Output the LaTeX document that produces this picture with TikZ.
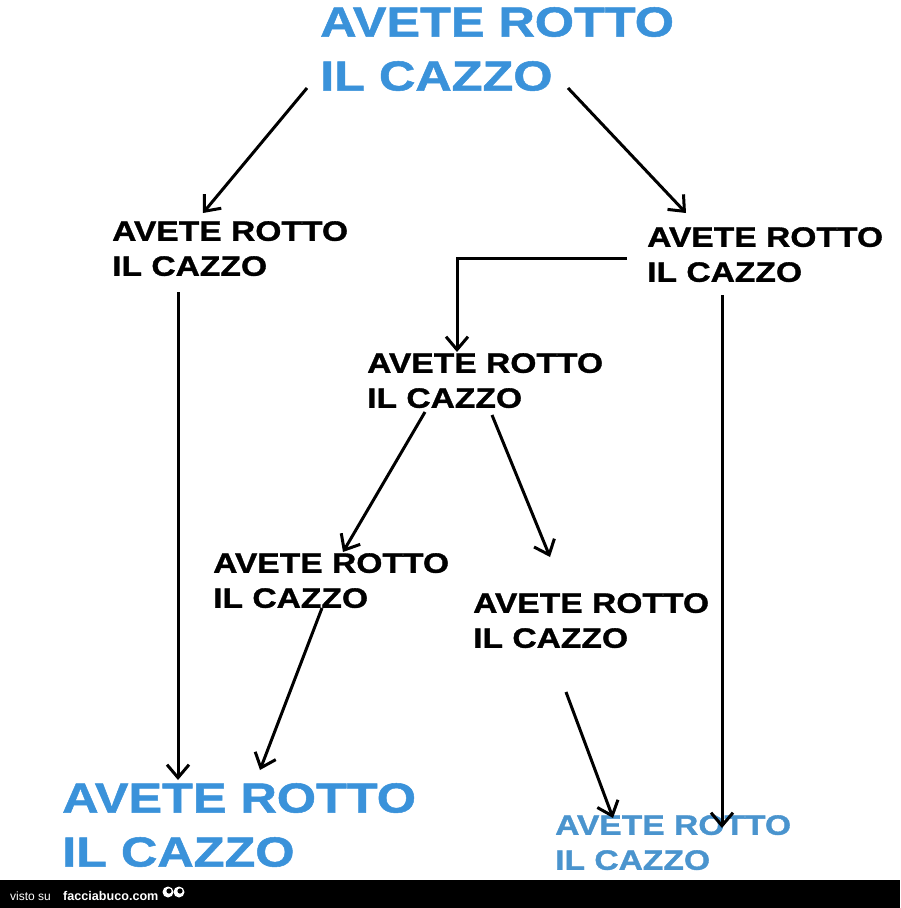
\documentclass[tikz,border=0pt]{standalone}
\usepackage{fontspec}
\newfontfamily\heavy{Liberation Sans Bold}[FakeStretch=1.2, FakeBold=1.2]
\newfontfamily\barfont{Liberation Sans}
\newfontfamily\barbold{Liberation Sans Bold}
\usetikzlibrary{arrows.meta}
\usetikzlibrary{calc}
\definecolor{mblue}{RGB}{58,146,218}
\definecolor{sblue}{RGB}{74,148,206}
\tikzset{txt/.style = {anchor=north west, inner sep=0, align=left, font=\heavy\fontsize{28}{35}\selectfont}}
\tikzset{bigtxt/.style = {txt, mblue, font=\heavy\fontsize{42}{54}\selectfont}}
\tikzset{arr/.style = {-{Straight Barb[length=13pt,width=22pt]}, line width=3pt}}
\tikzset{bartxt/.style = {white, anchor=base west, inner sep=0}}

\begin{document}
\begin{tikzpicture}[x=1pt, y=-1pt]
      \fill [white] (0, 0) rectangle (900, 908);
      \useasboundingbox (0, 0) rectangle (900, 908);
      \node [bigtxt] (title) at (320, 7) {AVETE ROTTO\\IL CAZZO};
      \node [txt] (lft) at (112, 221) {AVETE ROTTO\\IL CAZZO};
      \node [txt] (rgt) at (647, 227) {AVETE ROTTO\\IL CAZZO};
      \node [txt] (mid) at (367, 353) {AVETE ROTTO\\IL CAZZO};
      \node [txt] (lowl) at (213, 553) {AVETE ROTTO\\IL CAZZO};
      \node [txt] (lowr) at (473, 593) {AVETE ROTTO\\IL CAZZO};
      \node [bigtxt] (endl) at (62, 783) {AVETE ROTTO\\IL CAZZO};
      \node [txt, sblue] (endr) at (555, 815) {AVETE ROTTO\\IL CAZZO};

      \draw [arr] ($(title.north west)+(-13, 81)$) -- ($(lft.north west)+(91, -8)$);
      \draw [arr] ($(title.north west)+(248, 81)$) -- ($(rgt.north west)+(39, -14)$);
      \draw [arr] ($(lft.north west)+(66, 71)$) -- ($(endl.north west)+(116, -3)$);
      \draw [arr] ($(rgt.north west)+(-20, 31)$) -| ($(mid.north west)+(90, -1)$);
      \draw [arr] ($(rgt.north west)+(75, 68)$) -- ($(endr.north west)+(167, 13)$);
      \draw [arr] ($(mid.north west)+(58, 59)$) -- ($(lowl.north west)+(130, -1)$);
      \draw [arr] ($(mid.north west)+(125, 62)$) -- ($(lowr.north west)+(77, -36)$);
      \draw [arr] ($(lowl.north west)+(109, 55)$) -- ($(endl.north west)+(198, -13)$);
      \draw [arr] ($(lowr.north west)+(93, 99)$) -- ($(endr.north west)+(58, 3)$);

      \fill [black] (0, 880) rectangle (900, 908);
      \node [bartxt, font=\barfont\fontsize{12}{14}\selectfont] (visto) at (10, 900) {visto su};
      \node [bartxt, font=\barbold\fontsize{12.6}{14}\selectfont] (sito) at (63, 900) {facciabuco.com};
      \foreach \x in {168, 179} {
        \fill [white] (\x, 892) circle (5.5);
        \fill [black] (\x+1, 891) circle (2.6);
      }
    \end{tikzpicture}
\end{document}
